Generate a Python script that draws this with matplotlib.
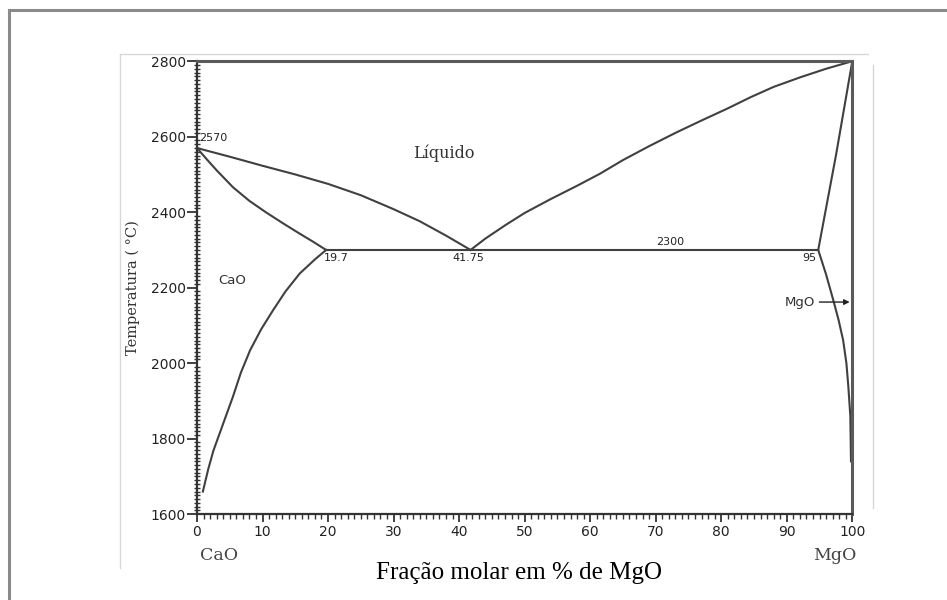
import matplotlib.pyplot as plt
from matplotlib.lines import Line2D
from matplotlib.ticker import MultipleLocator

# liquidus, CaO side: 2570 -> eutectic 41.75 / 2300
liq_left_x = [0, 5, 10, 15, 20, 25, 30, 34, 38, 41.75]
liq_left_t = [2570, 2547, 2523, 2500, 2475, 2445, 2408, 2376, 2338, 2300]

# liquidus, MgO side: eutectic -> 2800
liq_right_x = [41.75, 44, 47, 50, 54, 58, 61.5, 65, 69, 73, 77, 81, 84.4, 88, 92, 96, 100]
liq_right_t = [2300, 2330, 2365, 2398, 2435, 2470, 2502, 2538, 2575, 2610, 2643, 2675, 2704, 2732, 2757, 2780, 2800]

# CaO solid solution solidus
sol_cao_x = [0, 1.5, 3, 5.5, 8, 10.5, 13, 15.5, 17.7, 19.7]
sol_cao_t = [2570, 2540, 2511, 2466, 2430, 2400, 2372, 2345, 2322, 2300]

# CaO solvus
solv_cao_x = [19.7, 18, 15.7, 13.5, 11.6, 9.8, 8.1, 6.7, 5.5, 4.0, 2.5, 1.7, 0.9]
solv_cao_t = [2300, 2275, 2238, 2190, 2140, 2090, 2034, 1975, 1912, 1840, 1768, 1718, 1660]

# MgO solid solution solidus
sol_mgo_x = [100, 97.5, 94.8]
sol_mgo_t = [2800, 2550, 2300]

# MgO solvus
solv_mgo_x = [94.8, 96.0, 97.1, 97.9, 98.6, 99.1, 99.4, 99.7, 99.8]
solv_mgo_t = [2300, 2235, 2167, 2115, 2061, 2000, 1937, 1860, 1740]

eutectic_x = [19.7, 94.8]
eutectic_t = [2300, 2300]

line_color = "#404040"

fig = plt.figure(figsize=(9.47, 6.0), dpi=100)
ax = fig.add_axes([0.208, 0.143, 0.692, 0.755])

for xs, ts in [
    (liq_left_x, liq_left_t),
    (liq_right_x, liq_right_t),
    (sol_cao_x, sol_cao_t),
    (solv_cao_x, solv_cao_t),
    (sol_mgo_x, sol_mgo_t),
    (solv_mgo_x, solv_mgo_t),
    (eutectic_x, eutectic_t),
]:
    ax.plot(xs, ts, color=line_color, lw=1.5, clip_on=False,
            solid_joinstyle="round")

ax.set_xlim(0, 100)
ax.set_ylim(1600, 2800)
ax.xaxis.set_major_locator(MultipleLocator(10))
ax.xaxis.set_minor_locator(MultipleLocator(1))
ax.yaxis.set_major_locator(MultipleLocator(200))
ax.yaxis.set_minor_locator(MultipleLocator(10))

ax.tick_params(axis="x", which="major", direction="out", length=6, width=1.3,
               colors="#333333", labelcolor="#222222", labelsize=10, pad=2)
ax.tick_params(axis="x", which="minor", direction="out", length=3.5, width=1.0,
               colors="#333333")
ax.tick_params(axis="y", which="major", direction="out", length=7, width=1.3,
               colors="#333333", labelcolor="#222222", labelsize=10, pad=1)
ax.tick_params(axis="y", which="minor", direction="inout", length=4, width=1.0,
               colors="#333333")

for side in ["left", "bottom"]:
    ax.spines[side].set_color("#333333")
    ax.spines[side].set_linewidth(1.6)
for side in ["top", "right"]:
    ax.spines[side].set_color("#5a5a5a")
    ax.spines[side].set_linewidth(2.2)

small = dict(fontsize=8, color="#222222")
ax.text(0.4, 2582, "2570", ha="left", va="bottom", **small)
ax.text(19.3, 2292, "19.7", ha="left", va="top", **small)
ax.text(39.0, 2292, "41.75", ha="left", va="top", **small)
ax.text(70.0, 2308, "2300", ha="left", va="bottom", **small)
ax.text(92.4, 2292, "95", ha="left", va="top", **small)

ax.text(3.2, 2218, "CaO", fontsize=9.5, color="#333333", va="center")
ax.annotate("MgO", xy=(99.6, 2162), xytext=(89.7, 2162),
            fontsize=9.5, color="#333333", va="center",
            arrowprops=dict(arrowstyle="-|>", color="#222222", lw=1.0,
                            mutation_scale=8, shrinkA=1, shrinkB=0))
ax.text(37.6, 2556, "Líquido", fontsize=11.5, family="DejaVu Serif",
        color="#333333", ha="center", va="center")

ax.set_ylabel("Temperatura ( °C)", fontsize=10.5, family="DejaVu Serif",
              color="#333333", labelpad=8)

fig.text(0.231, 0.075, "CaO", fontsize=12.5, family="DejaVu Serif",
         color="#444444", ha="center", va="center")
fig.text(0.882, 0.075, "MgO", fontsize=12.5, family="DejaVu Serif",
         color="#444444", ha="center", va="center")
fig.text(0.548, 0.045, "Fração molar em % de MgO", fontsize=18,
         family="Liberation Serif", color="black", ha="center", va="center")

# page frame and faint border of the pasted image
W, H = 947.0, 600.0
frame = [((9, 10), (947, 10)), ((9, 10), (9, 600))]
for (x0, y0), (x1, y1) in frame:
    fig.add_artist(Line2D([x0 / W, x1 / W], [1 - y0 / H, 1 - y1 / H],
                          transform=fig.transFigure, color="#8a8a8a", lw=2.2))
inner = [((120, 54), (868, 54)), ((120, 54), (120, 568)), ((873, 65), (873, 508))]
for (x0, y0), (x1, y1) in inner:
    fig.add_artist(Line2D([x0 / W, x1 / W], [1 - y0 / H, 1 - y1 / H],
                          transform=fig.transFigure, color="#d8d8d8", lw=1.0))

fig.savefig("out.png", dpi=100)
